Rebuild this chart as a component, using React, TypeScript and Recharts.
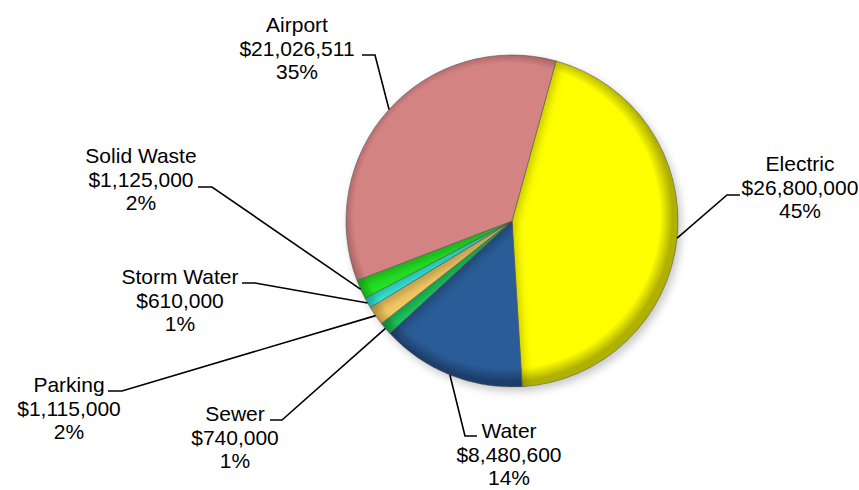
import { Cell, Pie, PieChart } from "recharts";

const categories = [
  "Electric",
  "Water",
  "Sewer",
  "Parking",
  "Storm Water",
  "Solid Waste",
  "Airport",
];
const amounts = [26800000, 8480600, 740000, 1115000, 610000, 1125000, 21026511];
const amountLabels = [
  "$26,800,000",
  "$8,480,600",
  "$740,000",
  "$1,115,000",
  "$610,000",
  "$1,125,000",
  "$21,026,511",
];
const percentLabels = ["45%", "14%", "1%", "2%", "1%", "2%", "35%"];

const colors = [
  "#FFFF00",
  "#2B5B97",
  "#1FC85C",
  "#F2C862",
  "#35EEDC",
  "#22E022",
  "#D48383",
];
const edgeColors = [
  "#B0B000",
  "#1C3D68",
  "#138A3E",
  "#B58F3A",
  "#1FA89C",
  "#159A15",
  "#9A5858",
];

// label placement, relative to pie centre: elbow, end of tick, text centre, first baseline
const labelPos = [
  { ex: 215, ey: -26, hx: 228, tx: 288, ty: -50 },
  { ex: -47, ey: 215, hx: -35, tx: -3, ty: 217 },
  { ex: -230, ey: 199, hx: -242, tx: -277, ty: 200 },
  { ex: -390, ey: 170, hx: -404, tx: -443, ty: 171 },
  { ex: -257, ey: 62, hx: -270, tx: -332, ty: 63 },
  { ex: -300, ey: -34, hx: -314, tx: -371, ty: -58 },
  { ex: -137, ey: -166, hx: -150, tx: -215, ty: -189 },
];

const data = categories.map((name, i) => ({ name, value: amounts[i] }));

const RAD = Math.PI / 180;
const LINE_H = 23.5;

function renderLabel(props: any) {
  const { cx, cy, midAngle, outerRadius, index } = props;
  const p = labelPos[index];
  const sx = cx + outerRadius * Math.cos(-midAngle * RAD);
  const sy = cy + outerRadius * Math.sin(-midAngle * RAD);
  const ex = cx + p.ex;
  const ey = cy + p.ey;
  const hx = cx + p.hx;
  const tx = cx + p.tx;
  const ty = cy + p.ty;
  return (
    <g key={`lbl-${index}`}>
      <polyline
        points={`${sx},${sy} ${ex},${ey} ${hx},${ey}`}
        fill="none"
        stroke="#000"
        strokeWidth={1.6}
      />
      <text
        x={tx}
        y={ty}
        textAnchor="middle"
        fill="#000"
        fontSize={21}
        fontFamily="'Liberation Sans', Arial, sans-serif"
      >
        <tspan x={tx} dy={0}>
          {categories[index]}
        </tspan>
        <tspan x={tx} dy={LINE_H}>
          {amountLabels[index]}
        </tspan>
        <tspan x={tx} dy={LINE_H}>
          {percentLabels[index]}
        </tspan>
      </text>
    </g>
  );
}

export default function App() {
  const cx = 507;
  const cy = 216;
  const r = 166;
  return (
    <div style={{ position: "absolute", left: 0, top: 0, background: "#fff" }}>
      <PieChart width={859} height={490}>
        <defs>
          <filter id="shadow" x="-20%" y="-20%" width="140%" height="140%">
            <feDropShadow
              dx={3}
              dy={4}
              stdDeviation={4}
              floodColor="#000"
              floodOpacity={0.22}
            />
          </filter>
          {colors.map((c, i) => (
            <radialGradient
              key={c}
              id={`grad${i}`}
              gradientUnits="userSpaceOnUse"
              cx={cx}
              cy={cy}
              r={r}
            >
              <stop offset="0%" stopColor={c} />
              <stop offset="92%" stopColor={c} />
              <stop offset="100%" stopColor={edgeColors[i]} />
            </radialGradient>
          ))}
        </defs>
        <Pie
          data={data}
          dataKey="value"
          nameKey="name"
          cx={cx}
          cy={cy}
          outerRadius={r}
          startAngle={74.6}
          endAngle={-285.4}
          stroke="#555"
          strokeWidth={0.6}
          label={renderLabel}
          labelLine={false}
          isAnimationActive={false}
        >
          {data.map((d, i) => (
            <Cell key={d.name} fill={`url(#grad${i})`} filter="url(#shadow)" />
          ))}
        </Pie>
      </PieChart>
    </div>
  );
}
